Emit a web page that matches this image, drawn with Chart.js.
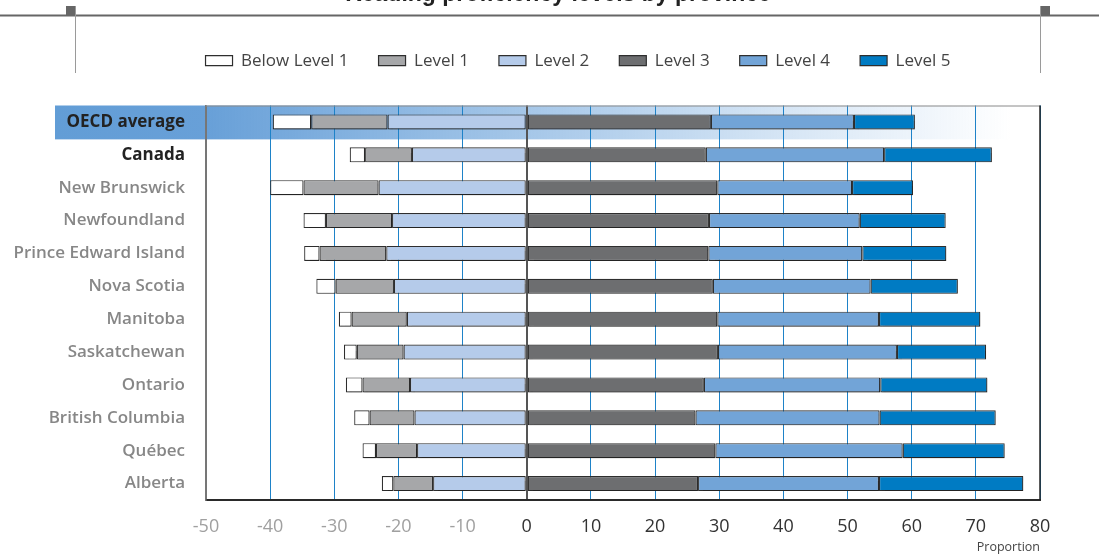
<!DOCTYPE html>
<html><head><meta charset="utf-8">
<script src="https://cdn.jsdelivr.net/npm/chart.js@4.4.1/dist/chart.umd.min.js"></script>
<style>html,body{margin:0;padding:0;background:#fff;overflow:hidden}#wrap{width:1099px;height:554px}</style>
</head><body><div id="wrap"><canvas id="c" width="1099" height="554" style="width:1099px;height:554px"></canvas></div>
<script>
const chartTitle = 'Reading proficiency levels by province';
const categories = ['OECD average','Canada','New Brunswick','Newfoundland','Prince Edward Island','Nova Scotia','Manitoba','Saskatchewan','Ontario','British Columbia','Québec','Alberta'];
const belowLevel1 = [6.0, 2.4, 5.2, 3.5, 2.4, 3.0, 2.0, 2.0, 2.6, 2.4, 2.1, 1.8];
const level1 = [11.9, 7.3, 11.7, 10.3, 10.4, 9.1, 8.6, 7.3, 7.4, 7.0, 6.4, 6.2];
const level2 = [21.7, 17.9, 23.1, 21.0, 21.9, 20.7, 18.7, 19.2, 18.2, 17.5, 17.1, 14.6];
const level3 = [28.7, 27.9, 29.7, 28.4, 28.3, 29.0, 29.7, 29.8, 27.6, 26.3, 29.4, 26.7];
const level4 = [22.3, 27.8, 21.0, 23.5, 24.0, 24.6, 25.2, 27.9, 27.5, 28.7, 29.2, 28.2];
const level5 = [9.5, 16.8, 9.5, 13.4, 13.1, 13.6, 15.8, 13.9, 16.7, 18.1, 15.9, 22.5];
const xTicks = [-50,-40,-30,-20,-10,0,10,20,30,40,50,60,70,80];
const xAxisTitle = 'Proportion';

const FONT = "'Open Sans','Noto Sans','DejaVu Sans',sans-serif";
const neg = a => a.map(v => -v);

// datasets in stacking order (levels below 2 grow leftwards from zero)
const datasets = [
  {label:'Level 2', data:neg(level2), backgroundColor:'#b5cbea', rank:2},
  {label:'Level 1', data:neg(level1), backgroundColor:'#a6a7a9', rank:1},
  {label:'Below Level 1', data:neg(belowLevel1), backgroundColor:'#ffffff', rank:0},
  {label:'Level 3', data:level3, backgroundColor:'#6d6e70', rank:3},
  {label:'Level 4', data:level4, backgroundColor:'#72a4d7', rank:4},
  {label:'Level 5', data:level5, backgroundColor:'#007bc3', rank:5}
].map(d => Object.assign(d, {borderColor:'#2e2e2e', borderWidth:1.2, borderSkipped:false, stack:'s', barPercentage:0.46, categoryPercentage:1}));

const deco = {
  id:'deco',
  afterLayout(chart){
    const lg = chart.legend;
    if (lg) { const dx = 578 - (lg.left + lg.right) / 2; lg.left += dx; lg.right += dx; }
  },
  beforeDraw(chart){
    const {ctx, chartArea:a, scales:{y}} = chart;
    ctx.save();
    // OECD highlight band
    const h = (y.getPixelForValue(1) - y.getPixelForValue(0)) + 1;
    const g = ctx.createLinearGradient(55,0,1012,0);
    g.addColorStop(0,'rgba(98,157,214,1)');
    g.addColorStop(0.16,'rgba(104,160,216,1)');
    g.addColorStop(1,'rgba(110,165,220,0)');
    ctx.fillStyle = g;
    ctx.fillRect(55, a.top, 1012-55, h);
    // top rule and marks
    ctx.fillStyle = '#666';
    ctx.fillRect(0,14.5,1099,2);
    ctx.fillRect(66,6,9,10);
    ctx.fillRect(1040,6,10,10);
    ctx.fillStyle = '#9a9a9a';
    ctx.fillRect(75,6,1,67);
    ctx.fillRect(1040,6,1,67);
    // title (cropped at top)
    ctx.fillStyle = '#222';
    ctx.font = "bold 23px 'Liberation Sans',Arial,sans-serif";
    ctx.textAlign = 'center';
    ctx.textBaseline = 'alphabetic';
    ctx.fillText(chartTitle, 558, 1);
    ctx.restore();
  },
  beforeDatasetsDraw(chart){
    const {ctx, chartArea:a} = chart;
    ctx.save();
    ctx.strokeStyle = '#8a8a8a'; ctx.lineWidth = 1;
    ctx.beginPath(); ctx.moveTo(a.left, a.top+0.5); ctx.lineTo(a.right, a.top+0.5); ctx.stroke();
    ctx.strokeStyle = '#222'; ctx.lineWidth = 1.5;
    ctx.beginPath(); ctx.moveTo(a.right, a.top); ctx.lineTo(a.right, a.bottom); ctx.stroke();
    ctx.restore();
    ctx.save();
    ctx.shadowColor = 'rgba(0,0,0,0.22)';
    ctx.shadowOffsetX = 1.5; ctx.shadowOffsetY = 1.5; ctx.shadowBlur = 1.5;
  },
  afterDatasetsDraw(chart){
    chart.ctx.restore();
  }
};

new Chart(document.getElementById('c'), {
  type:'bar',
  data:{labels:categories, datasets},
  options:{
    responsive:false, animation:false, indexAxis:'y',
    layout:{padding:{left:2, right:59, top:22.2, bottom:0}},
    plugins:{
      legend:{
        position:'top',
        labels:{
          boxWidth:27, boxHeight:10, padding:30, color:'#444',
          font:{family:FONT, size:17},
          sort:(a,b) => datasets[a.datasetIndex].rank - datasets[b.datasetIndex].rank
        }
      },
      subtitle:{display:true, text:'', weight:500, position:'top', font:{size:10, lineHeight:1}, padding:{top:0, bottom:16.3}},
      tooltip:{callbacks:{label:c => c.dataset.label + ': ' + Math.abs(c.raw)}}
    },
    scales:{
      x:{
        type:'linear', min:-50, max:80, stacked:true,
        afterBuildTicks: s => { s.ticks = xTicks.map(v => ({value:v})); },
        afterFit: s => { s.height = 54; },
        grid:{
          drawTicks:false,
          color: c => c.tick && c.tick.value === 0 ? '#555' : (c.tick && c.tick.value === -50 ? '#777' : 'rgb(30,130,200)'),
          lineWidth: c => c.tick && c.tick.value === 0 ? 2 : 1
        },
        border:{color:'#2a2a2a', width:2},
        ticks:{
          padding:16,
          font:{family:FONT, size:18},
          color: c => c.tick.value < 0 ? '#a0a0a0' : '#333'
        },
        title:{display:true, text:xAxisTitle, align:'end', color:'#444', font:{family:FONT, size:12.5, lineHeight:1.1}, padding:{top:0,bottom:0}}
      },
      y:{
        stacked:true,
        afterFit: s => { s.width = 204; },
        grid:{display:false, drawTicks:false},
        border:{color:'#777', width:1.5},
        ticks:{
          padding:21,
          font: c => ({family:FONT, size:17, weight: c.index < 2 ? '700' : '600'}),
          color: c => c.index < 2 ? '#222' : '#878787'
        }
      }
    }
  },
  plugins:[deco]
});
</script>
</body></html>
